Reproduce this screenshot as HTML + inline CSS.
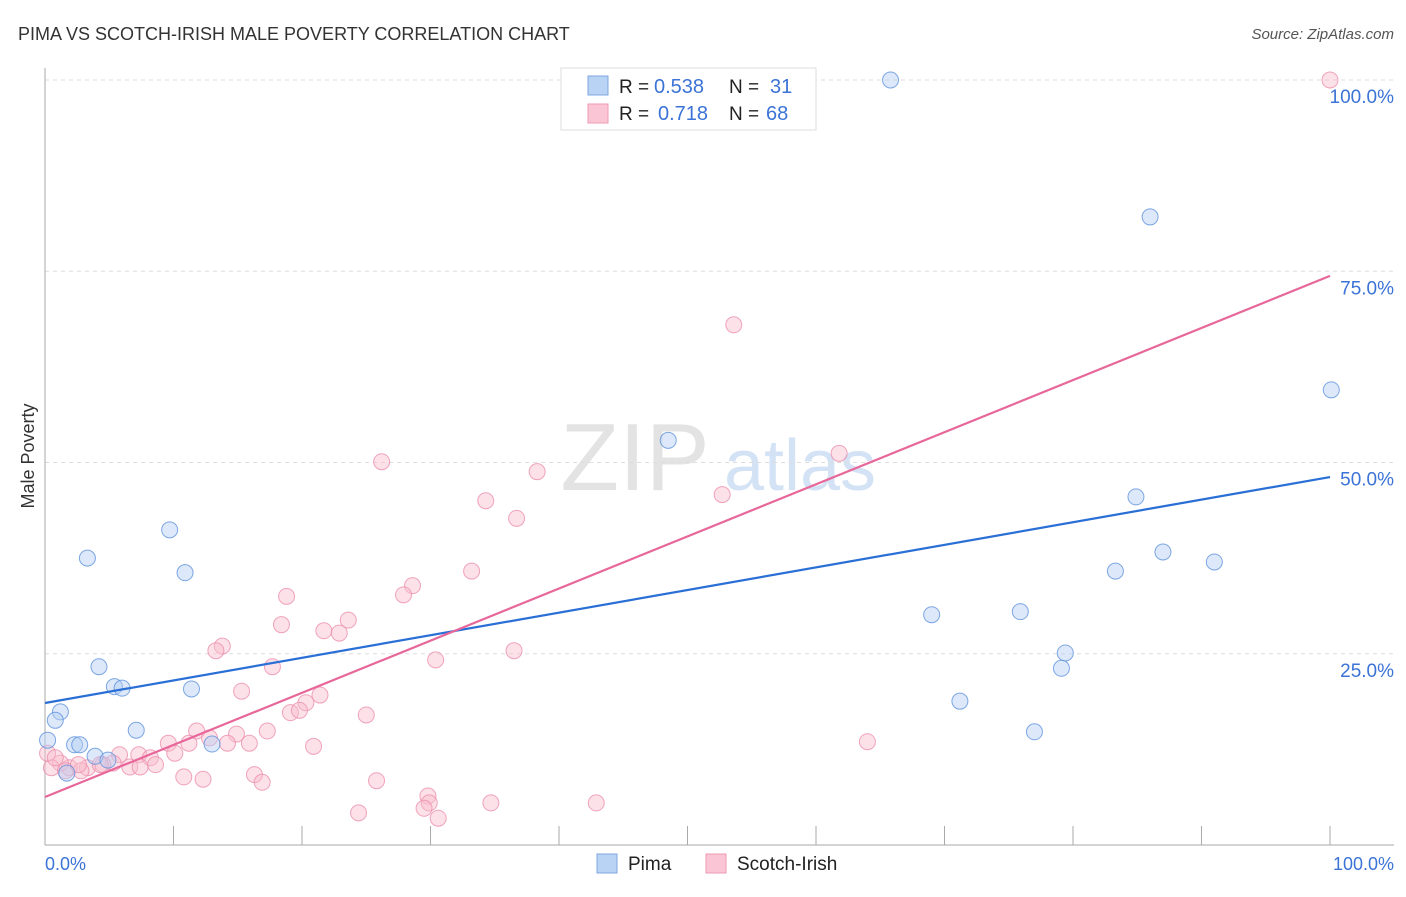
<!DOCTYPE html>
<html><head><meta charset="utf-8"><style>
body{margin:0;background:#fff;font-family:"Liberation Sans",sans-serif;}
svg text{font-family:"Liberation Sans",sans-serif;}
</style></head><body>
<svg id="chart" width="1406" height="892" xmlns="http://www.w3.org/2000/svg">
<text x="18" y="40" font-size="18" fill="#333">PIMA VS SCOTCH-IRISH MALE POVERTY CORRELATION CHART</text>
<text x="1394" y="39" font-size="15" fill="#555" text-anchor="end" font-style="italic">Source: ZipAtlas.com</text>
<g>
<text x="635" y="490" font-size="96" fill="#ddd" text-anchor="middle" font-family="Liberation Serif" opacity="0.8">ZIP</text>
<text x="800" y="490" font-size="72" fill="#c9dcf2" text-anchor="middle" opacity="0.8">atlas</text>
</g>
<g id="grid"></g>
<g id="axes"></g>
<g id="marks"></g>
<text transform="translate(34,456) rotate(-90)" font-size="18" fill="#333" text-anchor="middle">Male Poverty</text>
<text x="45" y="870" font-size="18" fill="#3b73d6">0.0%</text>
<text x="1394" y="870" font-size="18" fill="#3b73d6" text-anchor="end">100.0%</text>
<g>
<rect x="561" y="68" width="255" height="62" fill="#fff" stroke="#ddd"/>
<rect x="588" y="76" width="20" height="19" fill="#b9d3f5" stroke="#7fa6e0"/>
<rect x="588" y="104" width="20" height="19" fill="#fac5d4" stroke="#ee9ab3"/>
<text x="619" y="93" font-size="19" fill="#222">R =</text>
<text x="654" y="93" font-size="20" fill="#3b73d6">0.538</text>
<text x="729" y="93" font-size="19" fill="#222">N =</text>
<text x="770" y="93" font-size="20" fill="#3b73d6">31</text>
<text x="619" y="120" font-size="19" fill="#222">R =</text>
<text x="658" y="120" font-size="20" fill="#3b73d6">0.718</text>
<text x="729" y="120" font-size="19" fill="#222">N =</text>
<text x="766" y="120" font-size="20" fill="#3b73d6">68</text>
</g>
<g>
<rect x="597" y="854" width="20" height="19" fill="#b9d3f5" stroke="#7fa6e0"/>
<text x="628" y="870" font-size="19" fill="#222">Pima</text>
<rect x="706" y="854" width="20" height="19" fill="#fac5d4" stroke="#ee9ab3"/>
<text x="737" y="870" font-size="19" fill="#222">Scotch-Irish</text>
</g>
</svg>
<script>
const yTicks=[25,50,75,100];
const yTickLabels=["25.0%","50.0%","75.0%","100.0%"];
const xTicks=[10,20,30,40,50,60,70,80,90,100];
const pimaX=[65.8,86.0,100.1,48.5,84.9,87.0,91.0,83.3,69.0,75.9,79.4,79.1,71.2,77.0,9.7,3.3,10.9,4.2,5.4,6.0,11.4,7.1,1.2,0.8,0.2,2.3,2.7,3.9,1.7,4.9,13.0];
const pimaY=[100,82.1,59.5,52.9,45.5,38.3,37.0,35.8,30.1,30.5,25.1,23.1,18.8,14.8,41.2,37.5,35.6,23.3,20.7,20.5,20.4,15.0,17.4,16.3,13.7,13.1,13.1,11.6,9.4,11.1,13.2];
const siX=[100,53.6,61.8,26.2,38.3,52.7,34.3,36.7,33.2,28.6,27.9,18.8,23.6,18.4,21.7,22.9,13.8,13.3,36.5,30.4,17.7,15.3,21.4,20.3,19.1,19.8,25.0,17.3,11.8,14.9,12.8,9.6,11.2,14.2,15.9,20.9,64.0,7.3,10.1,5.8,8.2,5.3,8.6,6.6,4.5,3.3,1.9,1.2,0.5,0.2,2.8,10.8,16.3,16.9,12.3,25.8,29.8,29.9,29.5,34.7,42.9,24.4,30.6,0.8,4.3,7.4,1.6,2.6];
const siY=[100,68.0,51.2,50.1,48.8,45.8,45.0,42.7,35.8,33.9,32.7,32.5,29.4,28.8,28.0,27.7,26.0,25.4,25.4,24.2,23.3,20.1,19.6,18.6,17.3,17.6,17.0,14.9,14.9,14.5,14.0,13.3,13.3,13.3,13.3,12.9,13.5,11.8,12.0,11.8,11.4,10.7,10.5,10.2,10.5,10.1,10.1,10.7,10.1,12.0,9.7,8.9,9.2,8.2,8.6,8.4,6.4,5.5,4.8,5.5,5.5,4.2,3.5,11.4,10.5,10.2,9.7,10.5];
const pimaTrend=[18.56,48.1];
const siTrend=[6.27,74.4];
const NS='http://www.w3.org/2000/svg';
const X=v=>45+v*12.85, Y=v=>845-v*7.65;
function mk(t,a,p){const e=document.createElementNS(NS,t);for(const k in a)e.setAttribute(k,a[k]);p.appendChild(e);return e;}
const grid=document.getElementById('grid'),axes=document.getElementById('axes'),marks=document.getElementById('marks');
yTicks.forEach((t,i)=>{
 const l=mk('line',{x1:45,x2:1394,y1:Y(t),y2:Y(t),stroke:'#ddd','stroke-dasharray':'4,4'},grid);
 
 
 const tx=mk('text',{x:1394,y:Y(t)+23,'font-size':19,fill:'#3b73d6','text-anchor':'end'},axes);
 tx.textContent=yTickLabels[i];
 
 
});
const xa=mk('line',{x1:45,x2:1394,y1:845,y2:845,stroke:'#aaa'},axes);


const ya=mk('line',{x1:45,x2:45,y1:68,y2:845,stroke:'#aaa'},axes);


xTicks.forEach(t=>{
 const l=mk('line',{x1:X(t),x2:X(t),y1:826,y2:845,stroke:'#aaa'},axes);
 
 
});
function pts(xs,ys,fill,stroke,name){
 xs.forEach((x,i)=>{
  const c=mk('circle',{cx:X(x),cy:Y(ys[i]),r:8,fill:fill,'fill-opacity':0.45,stroke:stroke,'stroke-opacity':0.8,'stroke-width':1},marks);
  
  
 });
}
pts(siX,siY,'#f9bccd','#ec8fae','scotch-irish-point');
pts(pimaX,pimaY,'#b3cff3','#5f92dc','pima-point');
const pl=mk('line',{x1:X(0),y1:Y(pimaTrend[0]),x2:X(100),y2:Y(pimaTrend[1]),stroke:'#2a6fd6','stroke-width':2.2},marks);


const sl=mk('line',{x1:X(0),y1:Y(siTrend[0]),x2:X(100),y2:Y(siTrend[1]),stroke:'#e8679a','stroke-width':2.2},marks);


</script>
</body></html>
